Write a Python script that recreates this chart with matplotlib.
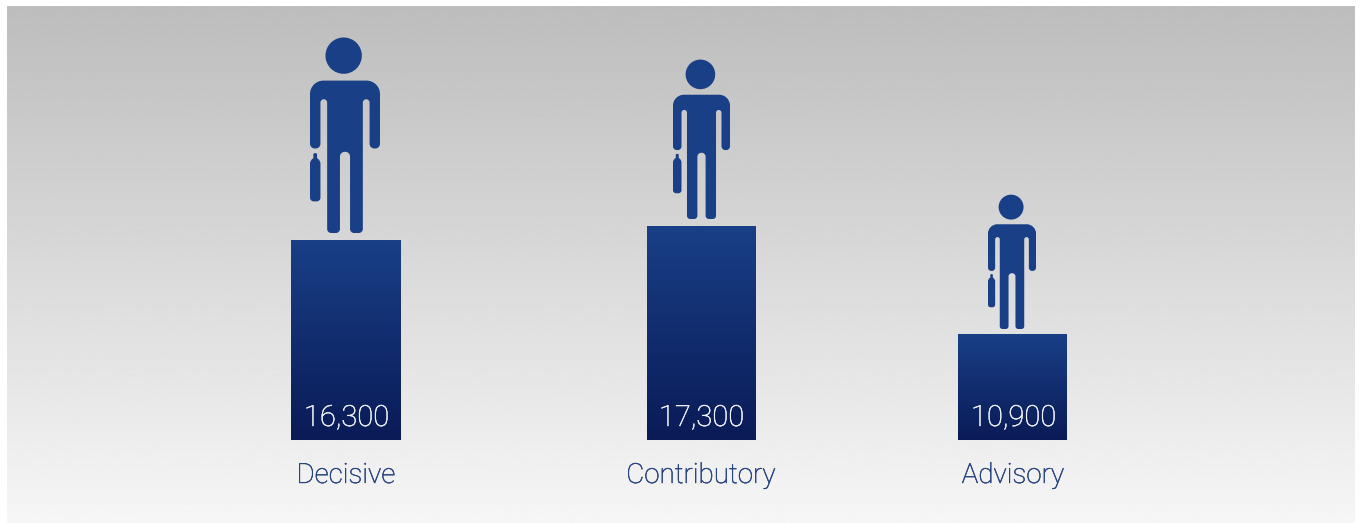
import numpy as np
import matplotlib
matplotlib.use("Agg")
import matplotlib.pyplot as plt
import matplotlib.patheffects as pe
from matplotlib.path import Path
from matplotlib.patches import PathPatch, Circle

categories = ["Decisive", "Contributory", "Advisory"]
value_labels = ["16,300", "17,300", "10,900"]
bar_heights = [200, 214, 106]   # drawn heights as pictured (not proportional to values)
bar_lefts = [291, 647, 958]
bar_widths = [110, 109, 109]
baseline = 440
# person icon: left, top, width, height
person_boxes = [(310, 38, 70, 195), (673, 60, 57, 159), (988, 195, 48, 134)]
label_centers = [346, 701, 1013]
value_centers = [346.5, 701.5, 1013.5]

NAVY = "#193f86"
DARK = "#0a1b57"

W, H = 1361, 523
fig = plt.figure(figsize=(W / 100, H / 100), dpi=100, facecolor="white")
ax = fig.add_axes([0, 0, 1, 1])
ax.set_xlim(0, W)
ax.set_ylim(H, 0)
ax.axis("off")

# background gradient
grad = np.linspace(189, 246, 256)[:, None] / 255
ax.imshow(grad, extent=(7, 1355, 523, 6), cmap="gray", vmin=0, vmax=1,
          aspect="auto", zorder=0, interpolation="bilinear")

def rounded(pts):
    """pts: (x, y, r); closed polygon with rounded corners."""
    verts, codes = [], []
    n = len(pts)
    for i in range(n):
        p = np.array(pts[i][:2], float)
        r = pts[i][2]
        a = np.array(pts[i - 1][:2], float)
        b = np.array(pts[(i + 1) % n][:2], float)
        ua = (a - p) / np.linalg.norm(a - p)
        ub = (b - p) / np.linalg.norm(b - p)
        s = p + ua * r
        e = p + ub * r
        k = 0.55
        verts += [s, s + (p - s) * k, e + (p - e) * k, e]
        codes += [Path.MOVETO if i == 0 else Path.LINETO, Path.CURVE4, Path.CURVE4, Path.CURVE4]
    verts.append(verts[0])
    codes.append(Path.CLOSEPOLY)
    return np.array(verts), codes

# icon outline in a 208 x 585 design space
X0, Y0, IW, IH = 91, 24, 208, 586
body = [
    (91, 152, 40), (299, 152, 40), (299, 356, 14), (268, 356, 14),
    (268, 208, 10), (248, 208, 10), (248, 610, 12), (210, 610, 12),
    (210, 366, 14), (180, 366, 14), (180, 610, 12), (142, 610, 12),
    (142, 208, 10), (122, 208, 10), (122, 356, 14), (91, 356, 14),
]
case = [
    (101, 385, 1), (101, 370, 4), (112, 370, 4), (112, 385, 1),
    (122, 393, 8), (122, 515, 11), (91, 515, 11), (91, 393, 8),
]

def draw_person(box):
    L, T, w, h = box
    sx, sy = w / IW, h / IH
    for shape in (body, case):
        v, c = rounded(shape)
        v = np.column_stack([L + (v[:, 0] - X0) * sx, T + (v[:, 1] - Y0) * sy])
        ax.add_patch(PathPatch(Path(v, c), fc=NAVY, ec="none", zorder=3))
    r = 54 * sx
    ax.add_patch(Circle((L + (191 - X0) * sx, T + (77 - Y0) * sy), r, fc=NAVY, ec="none", zorder=3))

bar_cmap = matplotlib.colors.LinearSegmentedColormap.from_list("bar", [NAVY, DARK])
for i, cat in enumerate(categories):
    left, wd, ht = bar_lefts[i], bar_widths[i], bar_heights[i]
    ax.imshow(np.linspace(0, 1, 128)[:, None], extent=(left, left + wd, baseline, baseline - ht),
              cmap=bar_cmap, aspect="auto", zorder=2, interpolation="bilinear")
    draw_person(person_boxes[i])
    t1 = ax.text(value_centers[i], 426, value_labels[i], color="#f4f6fb", fontsize=21,
                 family="Roboto", weight="light", ha="center", va="baseline", zorder=4)
    t1.set_path_effects([pe.withStroke(linewidth=0.3, foreground="#f4f6fb")])
    t2 = ax.text(label_centers[i], 483, cat, color="#24407f", fontsize=20,
                 family="Roboto", weight="light", ha="center", va="baseline", zorder=4)
    t2.set_path_effects([pe.withStroke(linewidth=0.3, foreground="#24407f")])

ax.set_xlim(0, W)
ax.set_ylim(H, 0)
fig.savefig("out.png", dpi=100, facecolor="white")
